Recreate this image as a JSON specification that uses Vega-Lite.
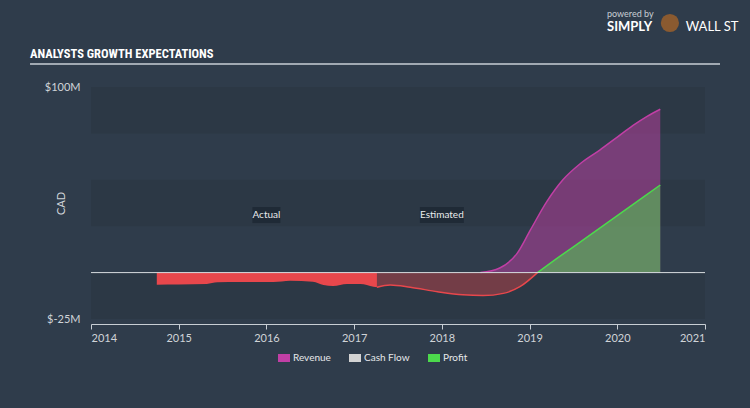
{
  "$schema": "https://vega.github.io/schema/vega-lite/v6.json",
  "width": 614,
  "height": 232,
  "autosize": "none",
  "padding": {"left": 91, "top": 87, "right": 45, "bottom": 89},
  "background": "#2f3c4b",
  "datasets": {
    "profit": [
      {"year": 2014.75, "value": -6.5, "phase": "Actual"},
      {"year": 2015.0, "value": -6.4, "phase": "Actual"},
      {"year": 2015.32, "value": -6.1, "phase": "Actual"},
      {"year": 2015.44, "value": -5.2, "phase": "Actual"},
      {"year": 2015.7, "value": -5.1, "phase": "Actual"},
      {"year": 2016.08, "value": -5.1, "phase": "Actual"},
      {"year": 2016.27, "value": -4.4, "phase": "Actual"},
      {"year": 2016.53, "value": -4.9, "phase": "Actual"},
      {"year": 2016.65, "value": -6.7, "phase": "Actual"},
      {"year": 2016.76, "value": -7.2, "phase": "Actual"},
      {"year": 2016.92, "value": -6.1, "phase": "Actual"},
      {"year": 2017.07, "value": -6.1, "phase": "Actual"},
      {"year": 2017.22, "value": -7.6, "phase": "Actual"},
      {"year": 2017.26, "value": -7.9, "phase": "Actual"},
      {"year": 2017.26, "value": -7.9, "phase": "Estimated"},
      {"year": 2017.41, "value": -6.7, "phase": "Estimated"},
      {"year": 2017.64, "value": -7.9, "phase": "Estimated"},
      {"year": 2017.95, "value": -10.3, "phase": "Estimated"},
      {"year": 2018.24, "value": -12.0, "phase": "Estimated"},
      {"year": 2018.47, "value": -12.4, "phase": "Estimated"},
      {"year": 2018.7, "value": -11.2, "phase": "Estimated"},
      {"year": 2018.89, "value": -7.6, "phase": "Estimated"},
      {"year": 2019.09, "value": 0.0, "phase": "Estimated"},
      {"year": 2019.3, "value": 7.3, "phase": "Estimated"},
      {"year": 2019.5, "value": 13.9, "phase": "Estimated"},
      {"year": 2019.7, "value": 20.6, "phase": "Estimated"},
      {"year": 2019.9, "value": 27.3, "phase": "Estimated"},
      {"year": 2020.1, "value": 34.1, "phase": "Estimated"},
      {"year": 2020.3, "value": 40.8, "phase": "Estimated"},
      {"year": 2020.49, "value": 47.2, "phase": "Estimated"}
    ],
    "revenue": [
      {"year": 2018.44, "value": 0.0},
      {"year": 2018.66, "value": 2.5},
      {"year": 2018.86, "value": 10.5},
      {"year": 2019.01, "value": 23.0},
      {"year": 2019.2, "value": 38.5},
      {"year": 2019.38, "value": 50.0},
      {"year": 2019.58, "value": 58.8},
      {"year": 2019.8, "value": 66.0},
      {"year": 2020.0, "value": 73.0},
      {"year": 2020.18, "value": 79.3},
      {"year": 2020.34, "value": 84.2},
      {"year": 2020.49, "value": 88.0}
    ],
    "bands": [
      {"lo": 75, "hi": 100},
      {"lo": 25, "hi": 50},
      {"lo": -25, "hi": 0}
    ],
    "one": [{}]
  },
  "layer": [
    {
      "data": {"name": "bands"},
      "mark": {"type": "rect", "color": "#2c3845"},
      "encoding": {
        "x": {
          "datum": 2014,
          "type": "quantitative",
          "scale": {"domain": [2014, 2021], "nice": false, "zero": false},
          "axis": {
            "title": null,
            "values": [2014, 2015, 2016, 2017, 2018, 2019, 2020, 2021],
            "format": "d",
            "grid": false,
            "offset": 5,
            "domainColor": "#c8ced4",
            "tickColor": "#c8ced4",
            "tickSize": 5,
            "labelColor": "#d0d4d8",
            "labelFont": "Lato",
            "labelFontSize": 11,
            "labelPadding": 3
          }
        },
        "x2": {"datum": 2021},
        "y": {
          "field": "lo",
          "type": "quantitative",
          "scale": {"domain": [-25, 100], "nice": false, "zero": false},
          "axis": {
            "title": "CAD",
            "titleX": -25,
            "titleY": 116,
            "titleAngle": -90,
            "titleColor": "#d0d4d8",
            "titleFont": "Lato",
            "titleFontSize": 11,
            "titleFontWeight": "normal",
            "values": [-25, 100],
            "labelExpr": "'$' + datum.value + 'M'",
            "labelColor": "#d0d4d8",
            "labelFont": "Lato",
            "labelFontSize": 11,
            "labelPadding": 11,
            "domain": false,
            "ticks": false,
            "grid": false
          }
        },
        "y2": {"field": "hi"}
      }
    },
    {
      "data": {"name": "profit"},
      "transform": [{"filter": "datum.phase == 'Actual'"}],
      "mark": {"type": "area", "color": "#e8474c", "interpolate": "monotone"},
      "encoding": {
        "x": {"field": "year", "type": "quantitative"},
        "y": {"field": "value", "type": "quantitative"},
        "y2": {"datum": 0}
      }
    },
    {
      "data": {"name": "profit"},
      "transform": [{"filter": "datum.phase == 'Estimated' && datum.year <= 2019.09"}],
      "mark": {"type": "area", "color": "#e8474c", "fillOpacity": 0.38, "interpolate": "monotone"},
      "encoding": {
        "x": {"field": "year", "type": "quantitative"},
        "y": {"field": "value", "type": "quantitative"},
        "y2": {"datum": 0}
      }
    },
    {
      "data": {"name": "revenue"},
      "mark": {"type": "area", "fillOpacity": 0.5, "interpolate": "monotone"},
      "encoding": {
        "x": {"field": "year", "type": "quantitative"},
        "y": {"field": "value", "type": "quantitative"},
        "y2": {"datum": 0},
        "color": {
          "datum": "Revenue",
          "type": "nominal",
          "scale": {
            "domain": ["Revenue", "Cash Flow", "Profit"],
            "range": ["#c13fa5", "#d3d3d3", "#4cd94c"]
          },
          "legend": {
            "title": null,
            "orient": "none",
            "legendX": 188,
            "legendY": 266,
            "direction": "horizontal",
            "symbolType": "M-1.5,-1H1.5V1H-1.5Z",
            "symbolSize": 64,
            "symbolStrokeWidth": 0,
            "symbolOpacity": 1,
            "labelColor": "#e6e8ea",
            "labelFont": "Lato",
            "labelFontSize": 10,
            "columnPadding": 18,
            "labelOffset": 4,
            "encode": {
              "symbols": {"update": {"opacity": {"value": 1}, "fillOpacity": {"value": 1}}}
            }
          }
        }
      }
    },
    {
      "data": {"name": "profit"},
      "transform": [{"filter": "datum.year >= 2019.09"}],
      "mark": {"type": "area", "fillOpacity": 0.5, "interpolate": "linear"},
      "encoding": {
        "x": {"field": "year", "type": "quantitative"},
        "y": {"field": "value", "type": "quantitative"},
        "y2": {"datum": 0},
        "color": {"datum": "Profit", "type": "nominal"}
      }
    },
    {
      "data": {"name": "profit"},
      "transform": [{"filter": "datum.phase == 'Estimated' && datum.year <= 2019.09"}],
      "mark": {"type": "line", "color": "#e8474c", "strokeWidth": 1.5, "interpolate": "monotone"},
      "encoding": {
        "x": {"field": "year", "type": "quantitative"},
        "y": {"field": "value", "type": "quantitative"}
      }
    },
    {
      "data": {"name": "revenue"},
      "mark": {"type": "line", "color": "#c13fa5", "strokeWidth": 1.5, "interpolate": "monotone"},
      "encoding": {
        "x": {"field": "year", "type": "quantitative"},
        "y": {"field": "value", "type": "quantitative"}
      }
    },
    {
      "data": {"name": "profit"},
      "transform": [{"filter": "datum.year >= 2019.09"}],
      "mark": {"type": "line", "color": "#4cd94c", "strokeWidth": 1.5},
      "encoding": {
        "x": {"field": "year", "type": "quantitative"},
        "y": {"field": "value", "type": "quantitative"}
      }
    },
    {
      "data": {"name": "one"},
      "mark": {"type": "rule", "color": "#d9dde0", "strokeWidth": 1},
      "encoding": {
        "x": {"datum": 2014},
        "x2": {"datum": 2021},
        "y": {"datum": 0}
      }
    },
    {
      "data": {"values": [{"label": "Actual", "year": 2016}, {"label": "Estimated", "year": 2018}]},
      "mark": {"type": "point", "filled": true, "opacity": 1, "color": "#1f2a36", "size": 256},
      "encoding": {
        "x": {"field": "year", "type": "quantitative"},
        "y": {"datum": 31},
        "shape": {
          "field": "label",
          "type": "nominal",
          "scale": {
            "domain": ["Actual", "Estimated"],
            "range": ["M-1.75,-1H1.75V1H-1.75Z", "M-2.75,-1H2.75V1H-2.75Z"]
          },
          "legend": null
        }
      }
    },
    {
      "data": {"values": [{"label": "Actual", "year": 2016}, {"label": "Estimated", "year": 2018}]},
      "mark": {"type": "text", "color": "#e8eaec", "font": "Lato", "fontSize": 10, "baseline": "middle", "align": "center"},
      "encoding": {
        "x": {"field": "year", "type": "quantitative"},
        "y": {"datum": 31},
        "text": {"field": "label"}
      }
    },
    {
      "data": {"name": "one"},
      "mark": {"type": "text", "color": "#ffffff", "font": "Roboto Condensed, Roboto, sans-serif", "fontSize": 12.5, "fontWeight": "bold", "align": "left", "baseline": "alphabetic", "text": "ANALYSTS GROWTH EXPECTATIONS"},
      "encoding": {
        "x": {"datum": 2013.305},
        "y": {"datum": 115.6}
      }
    },
    {
      "data": {"name": "one"},
      "mark": {"type": "rule", "color": "#c8ced4", "strokeWidth": 1.5},
      "encoding": {
        "x": {"datum": 2013.305},
        "x2": {"datum": 2021.171},
        "y": {"datum": 112.4}
      }
    },
    {
      "data": {"name": "one"},
      "mark": {"type": "text", "color": "#c8ced4", "font": "Lato", "fontSize": 9, "align": "left", "baseline": "alphabetic", "text": "powered by"},
      "encoding": {
        "x": {"datum": 2019.883},
        "y": {"datum": 137.7}
      }
    },
    {
      "data": {"name": "one"},
      "mark": {"type": "text", "color": "#ffffff", "font": "Lato", "fontSize": 13, "fontWeight": "bold", "align": "left", "baseline": "alphabetic", "text": "SIMPLY"},
      "encoding": {
        "x": {"datum": 2019.883},
        "y": {"datum": 130.2}
      }
    },
    {
      "data": {"name": "one"},
      "mark": {"type": "point", "filled": true, "color": "#8a5a30", "size": 330, "opacity": 1},
      "encoding": {
        "x": {"datum": 2020.6},
        "y": {"datum": 134.5}
      }
    },
    {
      "data": {"name": "one"},
      "mark": {"type": "text", "color": "#ffffff", "font": "Lato", "fontSize": 13, "align": "left", "baseline": "alphabetic", "text": "WALL ST"},
      "encoding": {
        "x": {"datum": 2020.78},
        "y": {"datum": 130.2}
      }
    }
  ],
  "config": {
    "view": {"stroke": null},
    "font": "Lato"
  }
}
